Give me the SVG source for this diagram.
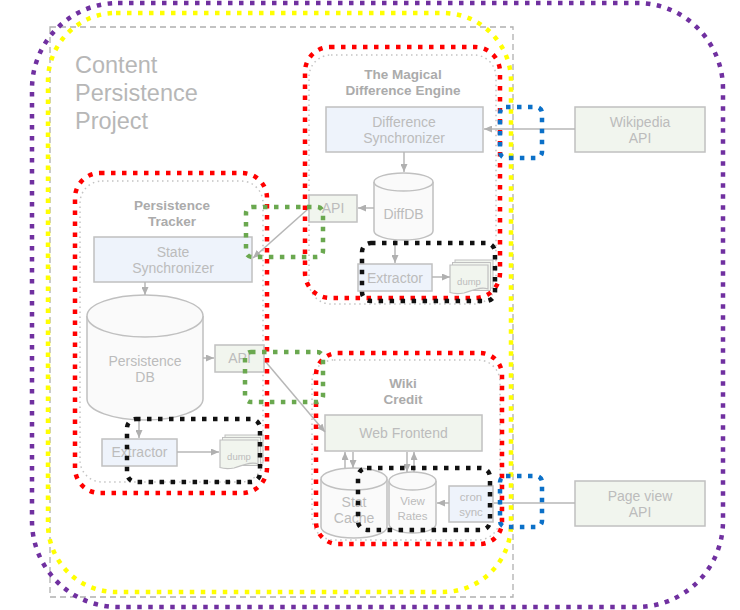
<svg xmlns="http://www.w3.org/2000/svg" width="740" height="610" viewBox="0 0 740 610">
<style>
.box{stroke:#c0c0c0;stroke-width:1.5}
.blue{fill:#eef3fb}
.green{fill:#f1f5ee}
.cyl{fill:#fafafa;stroke:#c0c0c0;stroke-width:1.5}
.t{font-family:"Liberation Sans",Arial,sans-serif;font-size:14px;fill:#bcbcbc;text-anchor:middle}
.h{font-family:"Liberation Sans",Arial,sans-serif;font-size:13.5px;font-weight:bold;fill:#ababab;text-anchor:middle}
.big{font-family:"Liberation Sans",Arial,sans-serif;font-size:23.5px;fill:#b7b7b7}
.con{stroke:#b7b7b7;stroke-width:1.5;fill:none}
.arr{marker-end:url(#ah)}
.gdot{fill:none;stroke:#c4c4c4;stroke-width:1.5;stroke-dasharray:1.5 3.5}
.dot{fill:none;stroke-width:4.5;stroke-dasharray:4.5 6.5}
</style>
<defs>
<marker id="ah" markerUnits="userSpaceOnUse" markerWidth="8" markerHeight="7" refX="8" refY="3.5" orient="auto">
<path d="M0,0 L8,3.5 L0,7 z" fill="#b0b0b0"/>
</marker>
<g id="dumpdoc">
<rect x="5" y="0" width="38" height="28" fill="#f1f5ee" stroke="#c0c0c0" stroke-width="1"/>
<rect x="2.5" y="2.5" width="38" height="28" fill="#f1f5ee" stroke="#c0c0c0" stroke-width="1"/>
<path d="M0,5 H38 V29 C30,26 22,31 14,33 C8,34 3,33.5 0,32.5 Z" fill="#f1f5ee" stroke="#c0c0c0" stroke-width="1.2"/>
</g>
</defs>
<rect width="740" height="610" fill="#ffffff"/>

<rect id="project" x="50" y="27" width="463" height="570" fill="none" stroke="#b0b0b0" stroke-width="1.3" stroke-dasharray="6 4"/>
<g id="project-title">
<text class="big" x="75" y="73">Content</text>
<text class="big" x="75" y="101">Persistence</text>
<text class="big" x="75" y="129">Project</text>
</g>

<g id="difference-engine">
<rect class="gdot" x="309" y="55" width="187" height="249" rx="22"/>
<text class="h" x="403" y="79">The Magical</text>
<text class="h" x="403" y="95">Difference Engine</text>
</g>
<g id="difference-synchronizer">
<rect class="box blue" x="326" y="107" width="157" height="45"/>
<text class="t" x="404" y="127">Difference</text>
<text class="t" x="404" y="143">Synchronizer</text>
</g>
<g id="diffdb">
<path class="cyl" d="M374,182 A29.5,9 0 0 1 433,182 V231 A29.5,9 0 0 1 374,231 Z"/>
<path class="cyl" fill="none" d="M374,182 A29.5,9 0 0 0 433,182"/>
<text class="t" x="403.5" y="219">DiffDB</text>
</g>
<g id="diff-api">
<rect class="box green" x="309" y="195" width="48" height="27"/>
<text class="t" x="333" y="213">API</text>
</g>
<g id="diff-extractor">
<rect class="box blue" x="358" y="264" width="74" height="27"/>
<text class="t" x="395" y="283">Extractor</text>
</g>
<g id="diff-dump">
<use href="#dumpdoc" x="450" y="260"/>
<text class="t" x="469" y="285" style="font-size:9.5px">dump</text>
</g>
<g id="wikipedia-api">
<rect class="box green" x="575" y="107" width="130" height="45"/>
<text class="t" x="640" y="127">Wikipedia</text>
<text class="t" x="640" y="143">API</text>
</g>

<g id="persistence-tracker">
<rect class="gdot" x="80" y="181" width="183" height="301" rx="22"/>
<text class="h" x="172" y="210">Persistence</text>
<text class="h" x="172" y="226">Tracker</text>
</g>
<g id="state-synchronizer">
<rect class="box blue" x="94" y="237" width="158" height="45"/>
<text class="t" x="173" y="257">State</text>
<text class="t" x="173" y="273">Synchronizer</text>
</g>
<g id="persistence-db">
<path class="cyl" d="M87,316 A58,21 0 0 1 203,316 V399 A58,21 0 0 1 87,399 Z"/>
<path class="cyl" fill="none" d="M87,316 A58,21 0 0 0 203,316"/>
<text class="t" x="145" y="366">Persistence</text>
<text class="t" x="145" y="382">DB</text>
</g>
<g id="pers-api">
<rect class="box green" x="215" y="345" width="49" height="27"/>
<text class="t" x="239.5" y="363">API</text>
</g>
<g id="pers-extractor">
<rect class="box blue" x="102" y="439" width="75" height="27"/>
<text class="t" x="139.5" y="457">Extractor</text>
</g>
<g id="pers-dump">
<use href="#dumpdoc" x="220" y="435"/>
<text class="t" x="239" y="460" style="font-size:9.5px">dump</text>
</g>

<g id="wiki-credit">
<rect class="gdot" x="312" y="360" width="188" height="180" rx="22"/>
<text class="h" x="403" y="388">Wiki</text>
<text class="h" x="403" y="404">Credit</text>
</g>
<g id="web-frontend">
<rect class="box green" x="325" y="415" width="157" height="36"/>
<text class="t" x="403.5" y="438">Web Frontend</text>
</g>
<g id="stat-cache">
<path class="cyl" d="M321,479 A33,11 0 0 1 387,479 V527 A33,11 0 0 1 321,527 Z"/>
<path class="cyl" fill="none" d="M321,479 A33,11 0 0 0 387,479"/>
<text class="t" x="354" y="507">Stat</text>
<text class="t" x="354" y="523">Cache</text>
</g>
<g id="view-rates">
<path class="cyl" d="M389,481 A23.5,9 0 0 1 436,481 V524 A23.5,9 0 0 1 389,524 Z"/>
<path class="cyl" fill="none" d="M389,481 A23.5,9 0 0 0 436,481"/>
<text class="t" x="412.5" y="505" style="font-size:11.5px">View</text>
<text class="t" x="412.5" y="520" style="font-size:11.5px">Rates</text>
</g>
<g id="cron-sync">
<rect class="box blue" x="449" y="486" width="44" height="36"/>
<text class="t" x="471" y="501" style="font-size:11.5px">cron</text>
<text class="t" x="471" y="516" style="font-size:11.5px">sync</text>
</g>
<g id="page-view-api">
<rect class="box green" x="575" y="481" width="130" height="45"/>
<text class="t" x="640" y="501">Page view</text>
<text class="t" x="640" y="517">API</text>
</g>

<g id="connectors">
<line class="con arr" x1="575" y1="129" x2="484" y2="129"/>
<line class="con arr" x1="404" y1="152" x2="404" y2="172"/>
<line class="con arr" x1="374" y1="208" x2="358" y2="208"/>
<line class="con arr" x1="395" y1="240" x2="395" y2="263"/>
<line class="con arr" x1="432" y1="277" x2="450" y2="277"/>
<line class="con arr" x1="308" y1="209" x2="253" y2="258"/>
<line class="con arr" x1="145" y1="282" x2="145" y2="295"/>
<line class="con arr" x1="203" y1="358" x2="214" y2="358"/>
<line class="con arr" x1="139" y1="419" x2="139" y2="438"/>
<line class="con arr" x1="177" y1="452" x2="219" y2="452"/>
<line class="con arr" x1="265" y1="361" x2="325" y2="432"/>
<line class="con arr" x1="345" y1="468" x2="345" y2="452"/>
<line class="con arr" x1="353" y1="452" x2="353" y2="468"/>
<line class="con arr" x1="407" y1="452" x2="407" y2="472"/>
<line class="con arr" x1="414" y1="472" x2="414" y2="452"/>
<line class="con arr" x1="449" y1="503" x2="437" y2="503"/>
<line class="con" x1="575" y1="503" x2="494" y2="503"/>
</g>

<g id="highlights">
<rect class="dot" x="32" y="3" width="691" height="604" rx="86" stroke="#7030a0"/>
<rect class="dot" x="48" y="13" width="463" height="579" rx="68" stroke="#ffff00"/>
<rect class="dot" x="305" y="47" width="195" height="251" rx="25" stroke="#ff0000"/>
<rect class="dot" x="75" y="173" width="192" height="320" rx="25" stroke="#ff0000"/>
<rect class="dot" x="316" y="353" width="186" height="191" rx="22" stroke="#ff0000"/>
<rect class="dot" x="362" y="243" width="133" height="58" rx="9" stroke="#111111"/>
<rect class="dot" x="127" y="419" width="133" height="63" rx="9" stroke="#111111"/>
<rect class="dot" x="358" y="468" width="132" height="62" rx="9" stroke="#111111"/>
<rect class="dot" x="246" y="207" width="77" height="50" rx="6" stroke="#6aa84f"/>
<rect class="dot" x="245" y="352" width="78" height="50" rx="6" stroke="#6aa84f"/>
<rect class="dot" x="500" y="107" width="42" height="51" rx="6" stroke="#0b70c8"/>
<rect class="dot" x="500" y="476" width="42" height="51" rx="6" stroke="#0b70c8"/>
</g>
</svg>
